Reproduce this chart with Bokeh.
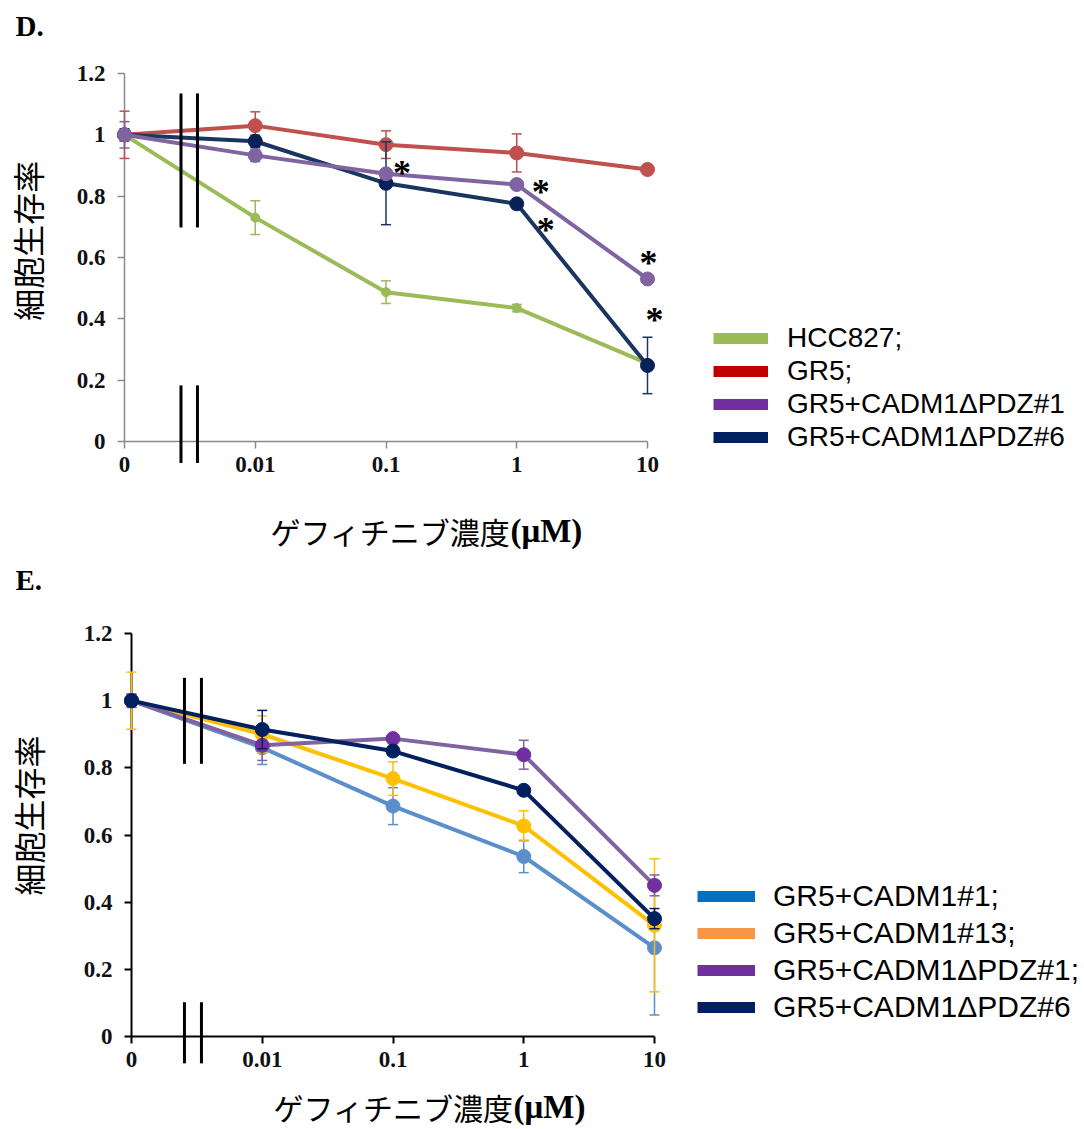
import math
import numpy as np
from bokeh.plotting import figure
from bokeh.models import Range1d, FixedTicker, Legend, LegendItem
from bokeh.embed import file_html
from bokeh.resources import INLINE
from bokeh.core.properties import value

# ---------------- data ----------------
x_labels = ["0", "0.01", "0.1", "1", "10"]
x_pos = [0, 1, 2, 3, 4]
y_ticks = [0, 0.2, 0.4, 0.6, 0.8, 1.0, 1.2]
y_tick_labels = ["0", "0.2", "0.4", "0.6", "0.8", "1", "1.2"]

# Panel D
d_names = ["HCC827;", "GR5;", "GR5+CADM1ΔPDZ#1", "GR5+CADM1ΔPDZ#6"]
d_hcc827 = [1.0, 0.73, 0.487, 0.435, 0.255]
d_hcc827_err = [0.0, 0.055, 0.037, 0.012, 0.0]
d_gr5 = [1.0, 1.03, 0.968, 0.941, 0.887]
d_gr5_err = [0.077, 0.045, 0.045, 0.062, 0.0]
d_pdz1 = [1.0, 0.933, 0.873, 0.838, 0.530]
d_pdz1_err = [0.043, 0.02, 0.0, 0.0, 0.0]
d_pdz6 = [1.0, 0.979, 0.842, 0.775, 0.248]
d_pdz6_err = [0.02, 0.02, 0.135, 0.0, 0.092]

# Panel E
e_names = ["GR5+CADM1#1;", "GR5+CADM1#13;", "GR5+CADM1ΔPDZ#1;", "GR5+CADM1ΔPDZ#6"]
e_c1 = [1.0, 0.86, 0.686, 0.536, 0.264]
e_c1_err = [0.02, 0.05, 0.055, 0.048, 0.2]
e_c13 = [1.0, 0.9, 0.768, 0.627, 0.331]
e_c13_err = [0.085, 0.055, 0.05, 0.045, 0.198]
e_pdz1 = [1.0, 0.867, 0.887, 0.839, 0.45]
e_pdz1_err = [0.02, 0.045, 0.01, 0.043, 0.031]
e_pdz6 = [1.0, 0.914, 0.85, 0.733, 0.351]
e_pdz6_err = [0.015, 0.057, 0.01, 0.01, 0.03]

Y_TITLE = "細胞生存率"
X_TITLE_JA = "ゲフィチニブ濃度"
X_TITLE_UNIT = "(μM)"

FIG_W = 1082
AXIS_W = 523       # pixel length of the x axis (0 .. 10)
Y_MAX = 1.2
BORDER_L = 60      # frame starts here; axes are pinned at data 0
EXTRA_TOP = 0.1    # room above 1.2 for the top tick label
EXTRA_BOT = 0.2    # room below 0 for tick labels, break marks, legend


def make_fig(height, axis_left, axis_top, axis_h):
    px_x = AXIS_W / 4.0
    px_y = axis_h / Y_MAX
    top_b = int(round(axis_top - EXTRA_TOP * px_y))
    bot_b = int(round(height - axis_top - axis_h - EXTRA_BOT * px_y))
    frame_bottom = height - bot_b
    y_end = Y_MAX + (axis_top - top_b) / px_y
    y_start = -(frame_bottom - (axis_top + axis_h)) / px_y
    x_start = -(axis_left - BORDER_L) / px_x
    x_end = (FIG_W - axis_left) / px_x
    p = figure(width=FIG_W, height=height, output_backend="svg", toolbar_location=None,
               x_range=Range1d(x_start, x_end), y_range=Range1d(y_start, y_end),
               min_border_left=BORDER_L, min_border_right=0,
               min_border_top=top_b, min_border_bottom=bot_b)
    # helper geometry for the legend (pixels from frame bottom-left to the axes origin)
    p.tags = [float(axis_left - BORDER_L), float(frame_bottom - (axis_top + axis_h))]
    return p


def style_axes(p, axis_color, axis_width):
    p.xaxis.ticker = FixedTicker(ticks=x_pos)
    p.xaxis.major_label_overrides = {k: v for k, v in zip(x_pos, x_labels)}
    p.yaxis.ticker = FixedTicker(ticks=y_ticks)
    p.yaxis.major_label_overrides = {k: v for k, v in zip(y_ticks, y_tick_labels)}
    p.xaxis.bounds = (0, 4)
    p.yaxis.bounds = (0, Y_MAX)
    p.xaxis.fixed_location = 0
    p.yaxis.fixed_location = 0
    for ax in (p.xaxis, p.yaxis):
        ax.axis_line_color = axis_color
        ax.axis_line_width = axis_width
        ax.major_tick_line_color = axis_color
        ax.major_tick_line_width = axis_width
        ax.major_tick_in = 0
        ax.major_tick_out = 7
        ax.minor_tick_line_color = None
        ax.major_label_text_font = "Liberation Serif"
        ax.major_label_text_font_style = "bold"
        ax.major_label_text_font_size = "23px"
        ax.major_label_text_color = "#111111"
    p.xaxis.major_label_standoff = 8
    p.yaxis.major_label_standoff = 12
    p.grid.visible = False
    p.outline_line_color = None


def add_series(p, ys, errs, line_color, marker_color, msize=14):
    ex = [x for x, e in zip(x_pos, errs) if e > 0]
    lo = [y - e for y, e in zip(ys, errs) if e > 0]
    hi = [y + e for y, e in zip(ys, errs) if e > 0]
    if ex:
        p.segment(x0=ex, y0=lo, x1=ex, y1=hi, line_color=line_color, line_width=1.5, level="overlay")
        p.scatter(x=ex + ex, y=lo + hi, marker="dash", size=10, line_color=line_color,
                  line_width=1.5, level="overlay")
    p.line(x=x_pos, y=ys, line_color=line_color, line_width=4, line_join="round", level="overlay")
    p.scatter(x=x_pos, y=ys, marker="circle", size=msize, fill_color=marker_color,
              line_color=marker_color, level="overlay")


def add_breaks(p, xs, spans):
    x0, y0, x1, y1 = [], [], [], []
    for x in xs:
        for a, b in spans:
            x0.append(x); x1.append(x); y0.append(a); y1.append(b)
    p.segment(x0=x0, y0=y0, x1=x1, y1=y1, line_color="black", line_width=3, level="overlay")


def add_titles(p, letter, letter_xy, ylab_xy, xsplit_xy):
    p.text(x=[letter_xy[0]], y=[letter_xy[1]], text=[letter], text_font=value("Liberation Serif"),
           text_font_style="bold", text_font_size="29px", text_align="left",
           text_baseline="middle", text_color="black", level="overlay")
    p.text(x=[ylab_xy[0]], y=[ylab_xy[1]], text=[Y_TITLE], angle=math.pi / 2,
           text_font=value("Noto Sans CJK JP"), text_font_size="32px", text_align="center",
           text_baseline="middle", text_color="black", level="overlay")
    p.text(x=[xsplit_xy[0]], y=[xsplit_xy[1]], text=[X_TITLE_JA],
           text_font=value("Noto Sans CJK JP"), text_font_size="30px", text_align="right",
           text_baseline="middle", text_color="black", level="overlay")
    p.text(x=[xsplit_xy[0]], y=[xsplit_xy[1]], text=[X_TITLE_UNIT],
           text_font=value("Liberation Serif"), text_font_style="bold", text_font_size="33px",
           text_align="left", text_baseline="middle", text_color="black", level="overlay")


def add_legend(p, names, colors, dx_axis, dy_axis, font_size, gh, spacing, gw, standoff):
    items = []
    for name, c in zip(names, colors):
        r = p.line(x=np.array([np.nan]), y=np.array([np.nan]), line_color=c, line_width=11)
        items.append(LegendItem(label=name, renderers=[r]))
    off_x, off_y = p.tags
    leg = Legend(items=items, location=(off_x + dx_axis, off_y + dy_axis),
                 glyph_width=gw, glyph_height=gh, label_height=gh,
                 label_standoff=standoff, spacing=spacing, padding=0, margin=0,
                 border_line_color=None, background_fill_alpha=0,
                 label_text_font="Liberation Sans", label_text_font_size=font_size,
                 label_text_color="black")
    p.add_layout(leg)


# ---------------- panel D ----------------
pD = make_fig(563, 124, 73, 368)
style_axes(pD, "#8A8A8A", 1.5)
add_series(pD, d_hcc827, d_hcc827_err, "#9BBB59", "#9BBB59", msize=9)
add_series(pD, d_gr5, d_gr5_err, "#C0504D", "#C0504D")
add_series(pD, d_pdz6, d_pdz6_err, "#1B3561", "#0A2157")
add_series(pD, d_pdz1, d_pdz1_err, "#8064A2", "#8064A2")

# significance asterisks anchored to points (pixel offsets)
star_x = [2, 3, 3, 4, 4]
star_y = [d_pdz1[2], d_pdz1[3], d_pdz6[3], d_pdz1[4], d_pdz6[4]]
star_dx = [16, 24, 29, 1, 7]
star_dy = [-1, 7, 26, -16, -45]
pD.text(x=star_x, y=star_y, text=["*"] * 5, x_offset=star_dx, y_offset=star_dy,
        text_font=value("Liberation Serif"), text_font_style="bold", text_font_size="36px",
        text_align="center", text_baseline="middle", text_color="black", level="overlay")

add_breaks(pD, [0.432, 0.558], [(1.135, 0.698), (0.183, -0.07)])
add_titles(pD, "D.", (-0.834, 1.356), (-0.742, 0.655), (2.952, -0.293))
add_legend(pD, d_names, ["#9BBB59", "#C00000", "#7030A0", "#002060"], 589, -12,
           "28px", 32, 1, 55, 19)

# ---------------- panel E ----------------
pE = make_fig(566, 131, 70, 403)
style_axes(pE, "#000000", 2)
add_series(pE, e_c1, e_c1_err, "#5B8FCB", "#5B8FCB")
add_series(pE, e_c13, e_c13_err, "#FFC000", "#FFC000")
add_series(pE, e_pdz1, e_pdz1_err, "#8064A2", "#7030A0")
add_series(pE, e_pdz6, e_pdz6_err, "#002060", "#002060")

add_breaks(pE, [0.405, 0.535], [(1.068, 0.812), (0.102, -0.08)])
add_titles(pE, "E.", (-0.887, 1.358), (-0.795, 0.658), (2.922, -0.209))
add_legend(pE, e_names, ["#0070C0", "#F79646", "#7030A0", "#002060"], 566, 12,
           "30px", 34, 3, 58, 18)

open("out.html", "w").write(file_html([pD, pE], INLINE))
